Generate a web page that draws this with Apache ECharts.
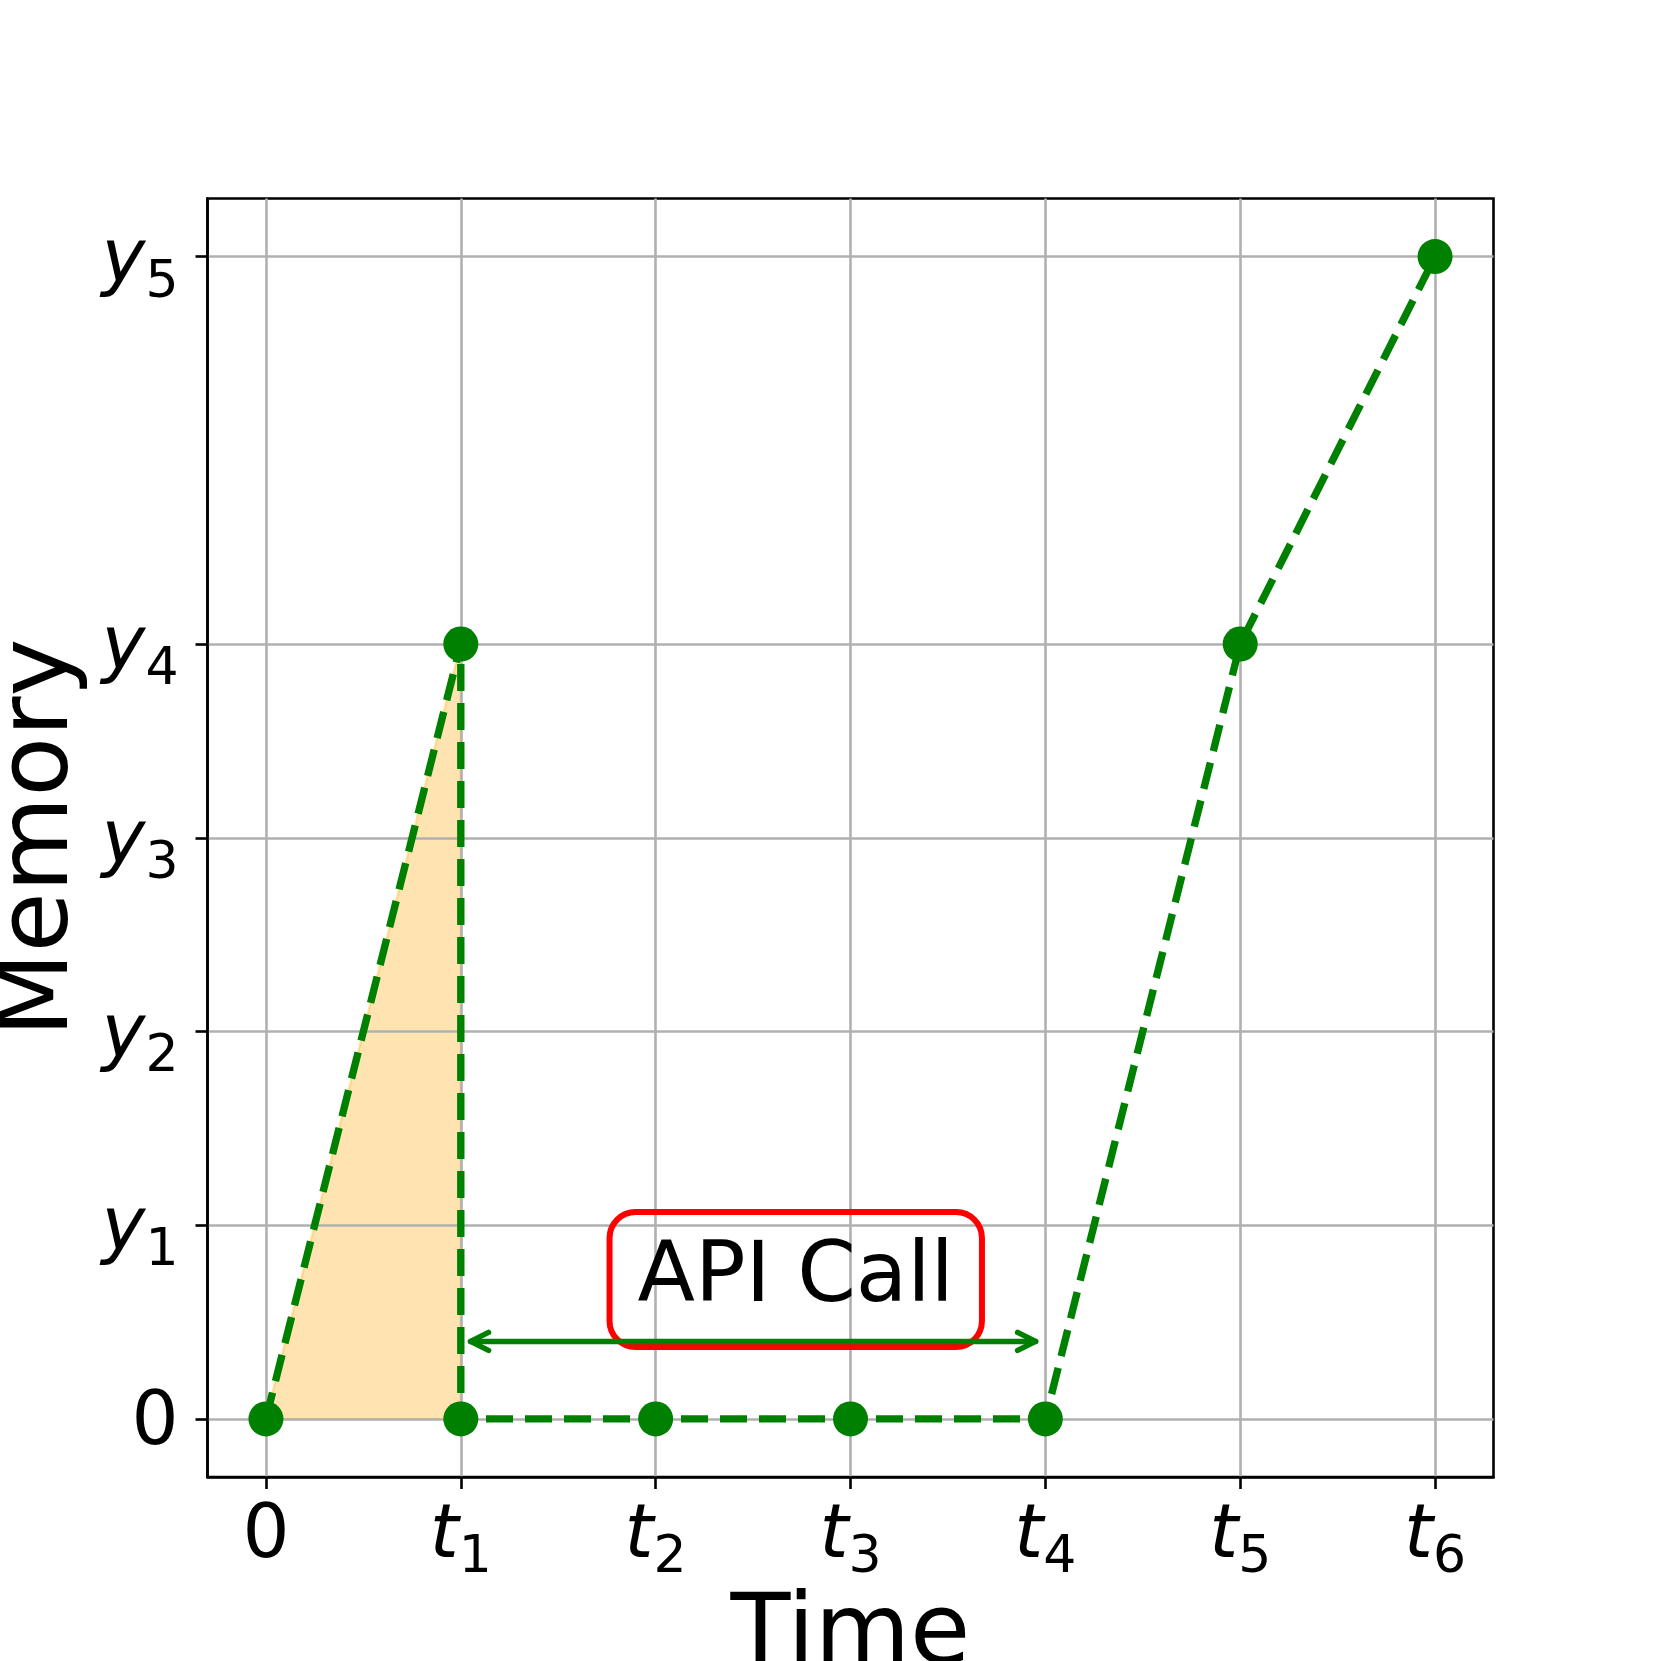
<!DOCTYPE html>
<html>
<head>
<meta charset="utf-8">
<title>Memory over time</title>
<script src="https://cdn.jsdelivr.net/npm/echarts@6.0.0/dist/echarts.min.js"></script>
<style>
	html, body { margin: 0; padding: 0; background: #fff; }
	#chart { width: 1661px; height: 1661px; }
</style>
</head>
<body>
<div id="chart"></div>
<script>
// tick positions and their labels (letter + subscript)
const xTickValues = [0, 1, 2, 3, 4, 5, 6];
const xTickLabels = ['0', 't1', 't2', 't3', 't4', 't5', 't6'];
const yTickValues = [0, 1, 2, 3, 4, 6];
const yTickLabels = ['0', 'y1', 'y2', 'y3', 'y4', 'y5'];

// memory trace
const timeValues = [0, 1, 1, 2, 3, 4, 5, 6];
const memoryValues = [0, 4, 0, 0, 0, 0, 4, 6];

// shaded triangle under the first ramp
const fillX = [0, 1, 1];
const fillY = [0, 4, 0];

// API call annotation
const arrowX = [1.05, 3.95];
const arrowY = [0.4, 0.4];
const noteText = 'API Call';
const noteX = 2.719;
const noteY = 0.72;

const GREEN = '#008000';
const FONT = 'DejaVu Sans';

function tickLabel(values, labels) {
	return function (val) {
		let i = values.indexOf(Math.round(val * 100) / 100);
		if (i < 0) return '';
		let s = labels[i];
		if (s.length === 1) return '{d|' + s + '}';
		return '{i|' + s[0] + '}{s|' + s.slice(1) + '}';
	};
}

// main glyphs pushed down a little, subscript dropped below the baseline
const tickRich = {
	d: { fontSize: 74, fontFamily: FONT, color: '#000', lineHeight: 93, padding: [12, 0, 0, 0] },
	i: { fontSize: 74, fontFamily: FONT, fontStyle: 'italic', color: '#000', lineHeight: 93, padding: [12, 0, 0, 0] },
	s: { fontSize: 52, fontFamily: FONT, color: '#000', lineHeight: 52, padding: [53, 0, 0, 0] }
};

let chart = echarts.init(document.getElementById('chart'), null, { renderer: 'canvas' });

chart.setOption({
	animation: false,
	backgroundColor: '#fff',
	grid: {
		left: 207.5,
		top: 198.5,
		right: 167.5,
		bottom: 184,
		containLabel: false,
		outerBoundsMode: 'none',
		show: true,
		borderColor: '#000',
		borderWidth: 2.6,
		backgroundColor: 'transparent'
	},
	xAxis: {
		type: 'value',
		min: -0.3,
		max: 6.3,
		z: 1,
		name: 'Time',
		nameLocation: 'middle',
		nameGap: 100,
		nameTextStyle: { fontSize: 98, fontFamily: FONT, color: '#000' },
		axisLine: { show: true, onZero: false, lineStyle: { color: '#000', width: 2.6 } },
		axisTick: { show: true, inside: false, length: 12, customValues: xTickValues, lineStyle: { color: '#000', width: 2.6 } },
		axisLabel: { show: true, margin: 8, customValues: xTickValues, formatter: tickLabel(xTickValues, xTickLabels), rich: tickRich },
		splitLine: { show: true, lineStyle: { color: '#b0b0b0', width: 2.6 } }
	},
	yAxis: {
		type: 'value',
		min: -0.3,
		max: 6.3,
		z: 1,
		name: 'Memory',
		nameLocation: 'middle',
		nameRotate: 90,
		nameGap: 104,
		nameTextStyle: { fontSize: 98, fontFamily: FONT, color: '#000' },
		axisLine: { show: true, onZero: false, lineStyle: { color: '#000', width: 2.6 } },
		axisTick: { show: true, inside: false, length: 12, customValues: yTickValues, lineStyle: { color: '#000', width: 2.6 } },
		axisLabel: { show: true, margin: 29, customValues: yTickValues, formatter: tickLabel(yTickValues, yTickLabels), rich: tickRich },
		splitLine: { show: true, lineStyle: { color: '#b0b0b0', width: 2.6 } }
	},
	series: [
		{
			name: 'fill',
			type: 'custom',
			silent: true,
			z: 0,
			data: fillX.map((x, i) => [x, fillY[i]]),
			renderItem: function (params, api) {
				if (params.dataIndex !== 0) return;
				let pts = fillX.map((x, i) => api.coord([x, fillY[i]]));
				return {
					type: 'polygon',
					shape: { points: pts },
					style: { fill: 'rgba(255,165,0,0.3)', stroke: 'rgba(255,165,0,0.3)', lineWidth: 2.5 }
				};
			}
		},
		{
			name: 'memory',
			type: 'line',
			z: 3,
			data: timeValues.map((t, i) => [t, memoryValues[i]]),
			symbol: 'circle',
			symbolSize: 35,
			showAllSymbol: true,
			itemStyle: { color: GREEN, borderWidth: 0 },
			lineStyle: { color: GREEN, width: 7.4, type: [27, 12], cap: 'butt' },
			emphasis: { disabled: true }
		},
		{
			name: 'note',
			type: 'custom',
			silent: true,
			z: 4,
			data: [[noteX, noteY]],
			renderItem: function (params, api) {
				let p = api.coord([api.value(0), api.value(1)]);
				return {
					type: 'text',
					x: p[0],
					y: p[1],
					style: {
						text: noteText,
						fontSize: 84,
						fontFamily: FONT,
						fill: '#000',
						align: 'center',
						verticalAlign: 'middle',
						lineHeight: 100,
						padding: [11, 28, 24, 28],
						borderColor: '#ff0000',
						borderWidth: 3,
						borderRadius: 26,
						backgroundColor: 'transparent'
					}
				};
			}
		},
		{
			name: 'arrow',
			type: 'custom',
			silent: true,
			z: 5,
			data: arrowX.map((x, i) => [x, arrowY[i]]),
			renderItem: function (params, api) {
				if (params.dataIndex !== 0) return;
				let a = api.coord([arrowX[0], arrowY[0]]);
				let b = api.coord([arrowX[1], arrowY[1]]);
				let hl = 18, hw = 9;
				let st = { stroke: GREEN, lineWidth: 5.5, fill: null, lineCap: 'round', lineJoin: 'round' };
				return {
					type: 'group',
					children: [
						{ type: 'line', shape: { x1: a[0], y1: a[1], x2: b[0], y2: b[1] }, style: st },
						{ type: 'polyline', shape: { points: [[a[0] + hl, a[1] - hw], a, [a[0] + hl, a[1] + hw]] }, style: st },
						{ type: 'polyline', shape: { points: [[b[0] - hl, b[1] - hw], b, [b[0] - hl, b[1] + hw]] }, style: st }
					]
				};
			}
		}
	]
});
</script>
</body>
</html>
